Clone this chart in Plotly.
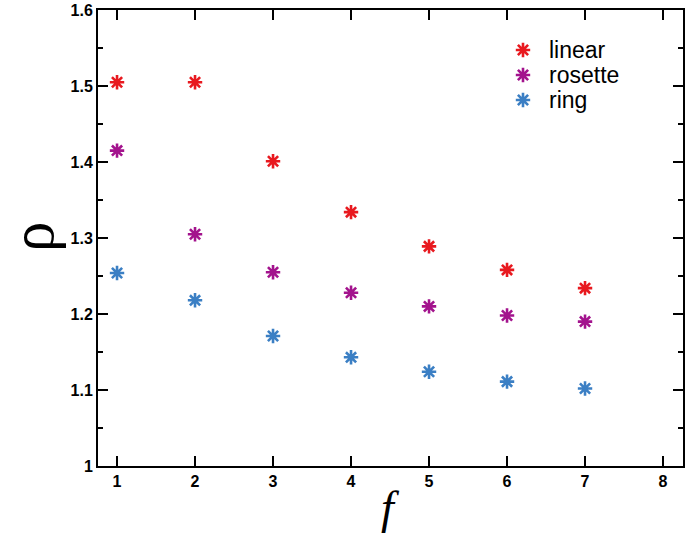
import plotly.graph_objects as go

f_vals = [1, 2, 3, 4, 5, 6, 7]
linear = [1.505, 1.505, 1.401, 1.334, 1.289, 1.258, 1.234]
rosette = [1.415, 1.305, 1.255, 1.228, 1.210, 1.198, 1.190]
ring = [1.254, 1.218, 1.171, 1.143, 1.124, 1.111, 1.102]

series_names = ["linear", "rosette", "ring"]
series_values = [linear, rosette, ring]
series_colors = ["#e8191f", "#a3138d", "#3b7fc4"]

W, H = 685, 536
L, R, T, B = 98, 2, 10, 70
PW, PH = W - L - R, H - T - B


def px_x(x):
    return (x - L) / PW


def px_y(y):
    return (H - B - y) / PH


# legend layout (pixel positions of entries)
legend_marker_x = 523
legend_text_x = 547
legend_rows_y = [50, 75, 100]

fig = go.Figure()
for name, vals, col in zip(series_names, series_values, series_colors):
    fig.add_trace(go.Scatter(
        x=f_vals, y=vals, mode="markers", name=name, showlegend=False,
        marker=dict(symbol="asterisk-open", size=12, color=col,
                    line=dict(color=col, width=2.6)),
    ))

# legend swatches on an invisible overlay axis spanning the plot area
for name, col, ry in zip(series_names, series_colors, legend_rows_y):
    fig.add_trace(go.Scatter(
        x=[px_x(legend_marker_x)], y=[px_y(ry)], xaxis="x2", yaxis="y2",
        mode="markers", showlegend=False, hoverinfo="skip", cliponaxis=False,
        marker=dict(symbol="asterisk-open", size=12, color=col,
                    line=dict(color=col, width=2.6)),
    ))
    fig.add_annotation(text=name, xref="paper", yref="paper",
                       x=px_x(legend_text_x), y=px_y(ry), xanchor="left", yanchor="middle",
                       showarrow=False,
                       font=dict(family="Liberation Sans, Arial", size=23, color="black"))

axis_common = dict(
    showline=True, linewidth=2, linecolor="black", mirror="ticks",
    ticks="inside", ticklen=10, tickwidth=2, tickcolor="black",
    showgrid=False, zeroline=False,
    tickfont=dict(family="Liberation Sans, Arial", size=16, color="black", weight="bold"),
)

fig.update_xaxes(range=[0.756, 8.256], tickmode="linear", tick0=1, dtick=1, **axis_common)
fig.update_yaxes(range=[1.0, 1.6], tickmode="linear", tick0=1.0, dtick=0.1,
                 minor=dict(ticks="inside", ticklen=5, tickwidth=2, tickcolor="black", dtick=0.05),
                 **axis_common)

fig.add_annotation(text="ρ", xref="paper", yref="paper", x=px_x(32), y=px_y(237),
                   xanchor="center", yanchor="middle", textangle=-90, showarrow=False,
                   font=dict(family="Liberation Serif, Times New Roman", size=61, color="black"))
fig.add_annotation(text="<i>f</i>", xref="paper", yref="paper", x=px_x(390), y=px_y(535),
                   xanchor="center", yanchor="bottom", showarrow=False,
                   font=dict(family="Liberation Serif, Times New Roman", size=46, color="black"))

fig.update_layout(
    width=W, height=H,
    margin=dict(l=L, r=R, t=T, b=B, autoexpand=False),
    plot_bgcolor="white", paper_bgcolor="white",
    xaxis2=dict(overlaying="x", range=[0, 1], visible=False, fixedrange=True),
    yaxis2=dict(overlaying="y", range=[0, 1], visible=False, fixedrange=True),
)

fig.write_html("out.html", config={"displayModeBar": False},
               post_script="document.body.style.margin='0px';")
